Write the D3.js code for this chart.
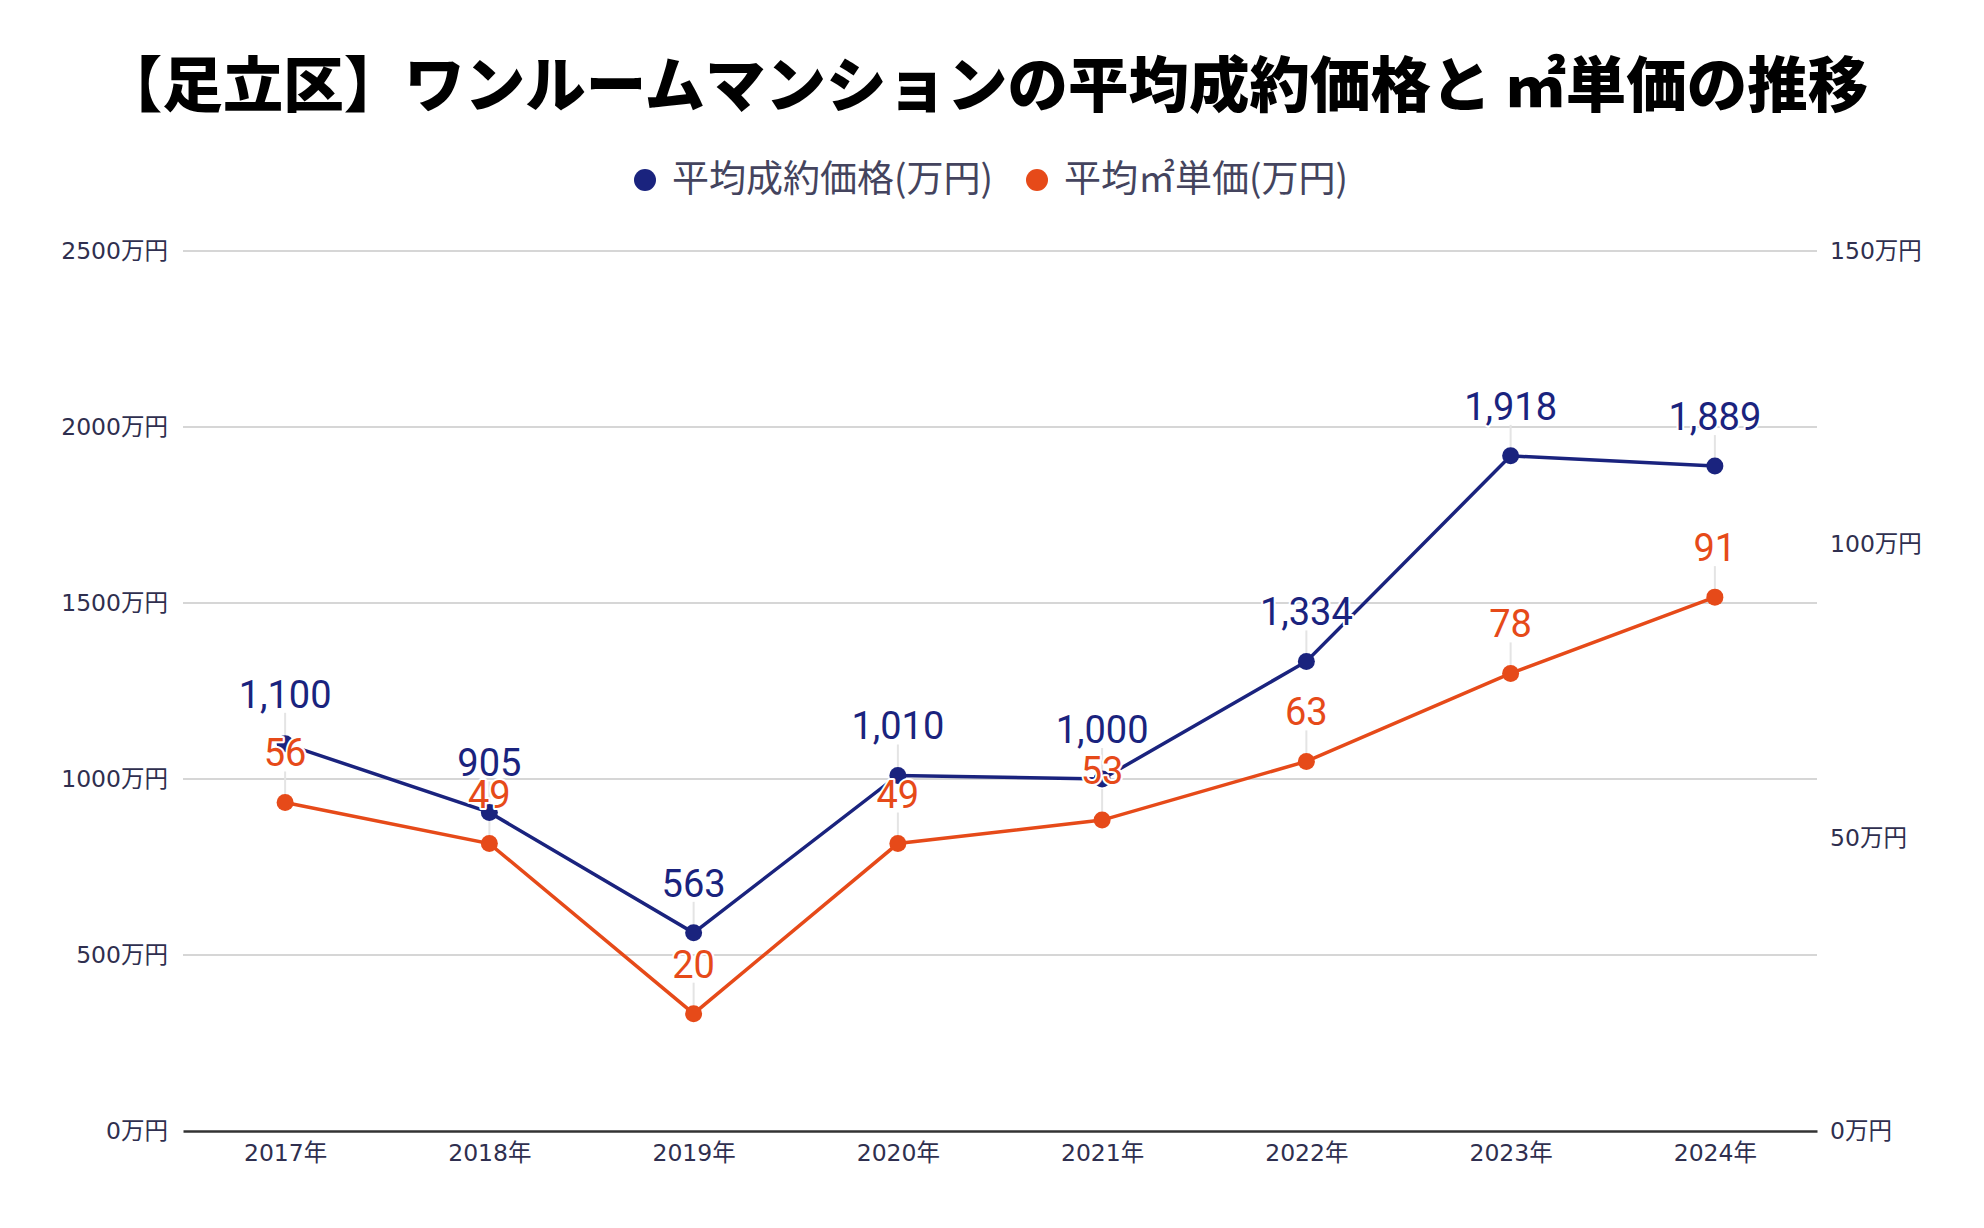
<!DOCTYPE html>
<html><head><meta charset="utf-8">
<script src="https://cdn.jsdelivr.net/npm/d3@7"></script>
<style>
html,body{margin:0;padding:0;background:#fff;}
svg{display:block;}
</style></head>
<body>
<svg id="c" width="1984" height="1228"></svg>
<script>
const titleText = "【足立区】ワンルームマンションの平均成約価格と ㎡単価の推移";
const categories = ["2017年","2018年","2019年","2020年","2021年","2022年","2023年","2024年"];
const priceValues = [1100, 905, 563, 1010, 1000, 1334, 1918, 1889];
const unitValues = [56, 49, 20, 49, 53, 63, 78, 91];
const leftTicks = [0, 500, 1000, 1500, 2000, 2500];
const rightTicks = [0, 50, 100, 150];
const seriesNames = ["平均成約価格(万円)", "平均㎡単価(万円)"];
const colors = ["#1a237e", "#e64a19"];

const svg = d3.select("#c");
const M = {left:183, right:1817, top:251, bottom:1131};
const x = d3.scalePoint().domain(categories).range([M.left, M.right]).padding(0.5);
const yL = d3.scaleLinear().domain([0,2500]).range([M.bottom, M.top]);
const yR = d3.scaleLinear().domain([0,150]).range([M.bottom, M.top]);
const axisFont = "'DejaVu Sans','Noto Sans CJK JP',sans-serif";
const axisColor = "#2f2f4f";
const axisSize = 23.5;

// title
svg.append("text").attr("x", 985).attr("y", 107).attr("text-anchor","middle")
  .attr("font-family","'Noto Sans CJK JP',sans-serif").attr("font-weight",900)
  .attr("font-size",60.5).attr("fill","#000").text(titleText);

// legend
const legendItems = [{cx:645, tx:672}, {cx:1037, tx:1064}];
legendItems.forEach((li,i)=>{
  svg.append("circle").attr("cx",li.cx).attr("cy",180).attr("r",11).attr("fill",colors[i]);
  svg.append("text").attr("x",li.tx).attr("y",192).attr("font-family","'Noto Sans CJK JP',sans-serif")
    .attr("font-size",37).attr("fill","#44445e").text(seriesNames[i]);
});

// gridlines
const gGrid = svg.append("g");
gGrid.selectAll("line").data(leftTicks.filter(d=>d>0)).join("line")
  .attr("x1",M.left).attr("x2",M.right).attr("y1",d=>yL(d)).attr("y2",d=>yL(d))
  .attr("stroke","#c8c8c8").attr("stroke-width",1.5);

// left axis
const gl = svg.append("g").attr("transform",`translate(${M.left-15},0)`)
  .call(d3.axisLeft(yL).tickValues(leftTicks).tickSize(0).tickPadding(0).tickFormat(d=>d+"万円"));
gl.select(".domain").remove();
gl.selectAll("text").attr("font-family",axisFont).attr("font-size",axisSize).attr("fill",axisColor);

// right axis
const gr = svg.append("g").attr("transform",`translate(${M.right+13},0)`)
  .call(d3.axisRight(yR).tickValues(rightTicks).tickSize(0).tickPadding(0).tickFormat(d=>d+"万円"));
gr.select(".domain").remove();
gr.selectAll("text").attr("font-family",axisFont).attr("font-size",axisSize).attr("fill",axisColor);

// x axis
const gx = svg.append("g").attr("transform",`translate(0,${M.bottom})`)
  .call(d3.axisBottom(x).tickSize(0).tickPadding(13));
gx.select(".domain").attr("stroke","#333").attr("stroke-width",2.5);
gx.selectAll("text").attr("font-family",axisFont).attr("font-size",axisSize).attr("fill",axisColor);

const series = [
  {vals: priceValues, y: yL, color: colors[0], fmt: d3.format(",")},
  {vals: unitValues, y: yR, color: colors[1], fmt: d3.format(",")}
];

// connectors
series.forEach(s=>{
  svg.append("g").selectAll("line").data(s.vals).join("line")
    .attr("x1",(d,i)=>x(categories[i])).attr("x2",(d,i)=>x(categories[i]))
    .attr("y1",d=>s.y(d)).attr("y2",d=>s.y(d)-31)
    .attr("stroke","#e4e4e4").attr("stroke-width",2);
});

// lines + points
series.forEach(s=>{
  const line = d3.line().x((d,i)=>x(categories[i])).y(d=>s.y(d));
  svg.append("path").datum(s.vals).attr("d",line).attr("fill","none")
    .attr("stroke",s.color).attr("stroke-width",3.5);
  svg.append("g").selectAll("circle").data(s.vals).join("circle")
    .attr("cx",(d,i)=>x(categories[i])).attr("cy",d=>s.y(d)).attr("r",8.5).attr("fill",s.color);
});

// labels
series.forEach(s=>{
  svg.append("g").selectAll("text").data(s.vals).join("text")
    .attr("x",(d,i)=>x(categories[i])).attr("y",d=>s.y(d)-36)
    .attr("text-anchor","middle").attr("font-family","Roboto,sans-serif").attr("font-size",38)
    .attr("fill",s.color).attr("stroke","#fff").attr("stroke-width",4).attr("stroke-linejoin","round")
    .attr("paint-order","stroke").text(d=>s.fmt(d));
});
</script>
</body></html>
